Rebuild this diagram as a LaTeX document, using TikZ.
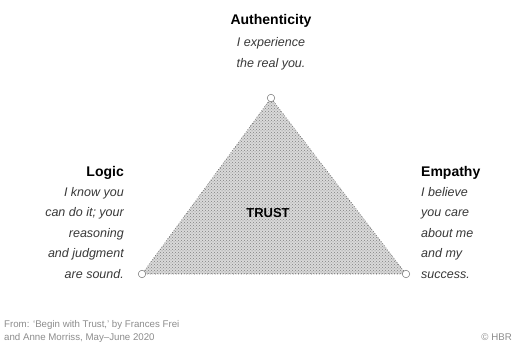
\documentclass[tikz,border=0pt]{standalone}
\usepackage{fontspec}
\setmainfont{Liberation Sans}
\usetikzlibrary{patterns}
\definecolor{bodytext}{gray}{0.22}
\definecolor{foot}{gray}{0.55}
\tikzset{
  head/.style={font=\fontsize{14}{16}\selectfont\bfseries, text=black, inner sep=0pt},
  body/.style={font=\fontsize{12.5}{15}\selectfont\itshape, text=bodytext, inner sep=0pt},
  vert/.style={circle, draw=black!55, fill=white, line width=0.5pt, minimum size=7.5pt, inner sep=0pt},
  footnote/.style={font=\fontsize{9.7}{11}\selectfont, text=foot, inner sep=0pt, anchor=base west}
}
\begin{document}
\begin{tikzpicture}[x=1pt, y=-1pt]
\useasboundingbox (0,0) rectangle (515,356);
% triangle
\coordinate (A) at (271,98);
\coordinate (L) at (142,274);
\coordinate (R) at (406,274);
\fill[gray!30] (A) -- (L) -- (R) -- cycle;
\fill[pattern=crosshatch dots, pattern color=black!50] (A) -- (L) -- (R) -- cycle;
\draw[black!65, line width=0.6pt, dotted] (A) -- (L) -- (R) -- cycle;
\node[vert] (va) at (A) {};
\node[vert] (vl) at (L) {};
\node[vert] (vr) at (R) {};
\node[font=\fontsize{13}{15}\selectfont\bfseries, inner sep=1pt, anchor=base] (trust) at (268,217) {TRUST};
% Authenticity
\node[head, anchor=base] (auth) at (271,24) {Authenticity};
\node[body, anchor=base] (auth1) at (271,46) {I experience};
\node[body, anchor=base] (auth2) at (271,67.5) {the real you.};
% Logic
\node[head, anchor=base east] (logic) at (124,176) {Logic};
\node[body, anchor=base east] (lg1) at (124,196) {I know you};
\node[body, anchor=base east] (lg2) at (124,216.5) {can do it; your};
\node[body, anchor=base east] (lg3) at (124,237) {reasoning};
\node[body, anchor=base east] (lg4) at (124,257.5) {and judgment};
\node[body, anchor=base east] (lg5) at (124,278) {are sound.};
% Empathy
\node[head, anchor=base west] (emp) at (421,176) {Empathy};
\node[body, anchor=base west] (em1) at (421,196) {I believe};
\node[body, anchor=base west] (em2) at (421,216.5) {you care};
\node[body, anchor=base west] (em3) at (421,237) {about me};
\node[body, anchor=base west] (em4) at (421,257.5) {and my};
\node[body, anchor=base west] (em5) at (421,278) {success.};
% footer
\node[footnote] (f1) at (4,327) {From: ‘Begin with Trust,’ by Frances Frei};
\node[footnote] (f2) at (4,340) {and Anne Morriss, May–June 2020};
\node[footnote, anchor=base east] (hbr) at (512,340) {© HBR};
\end{tikzpicture}
\end{document}
